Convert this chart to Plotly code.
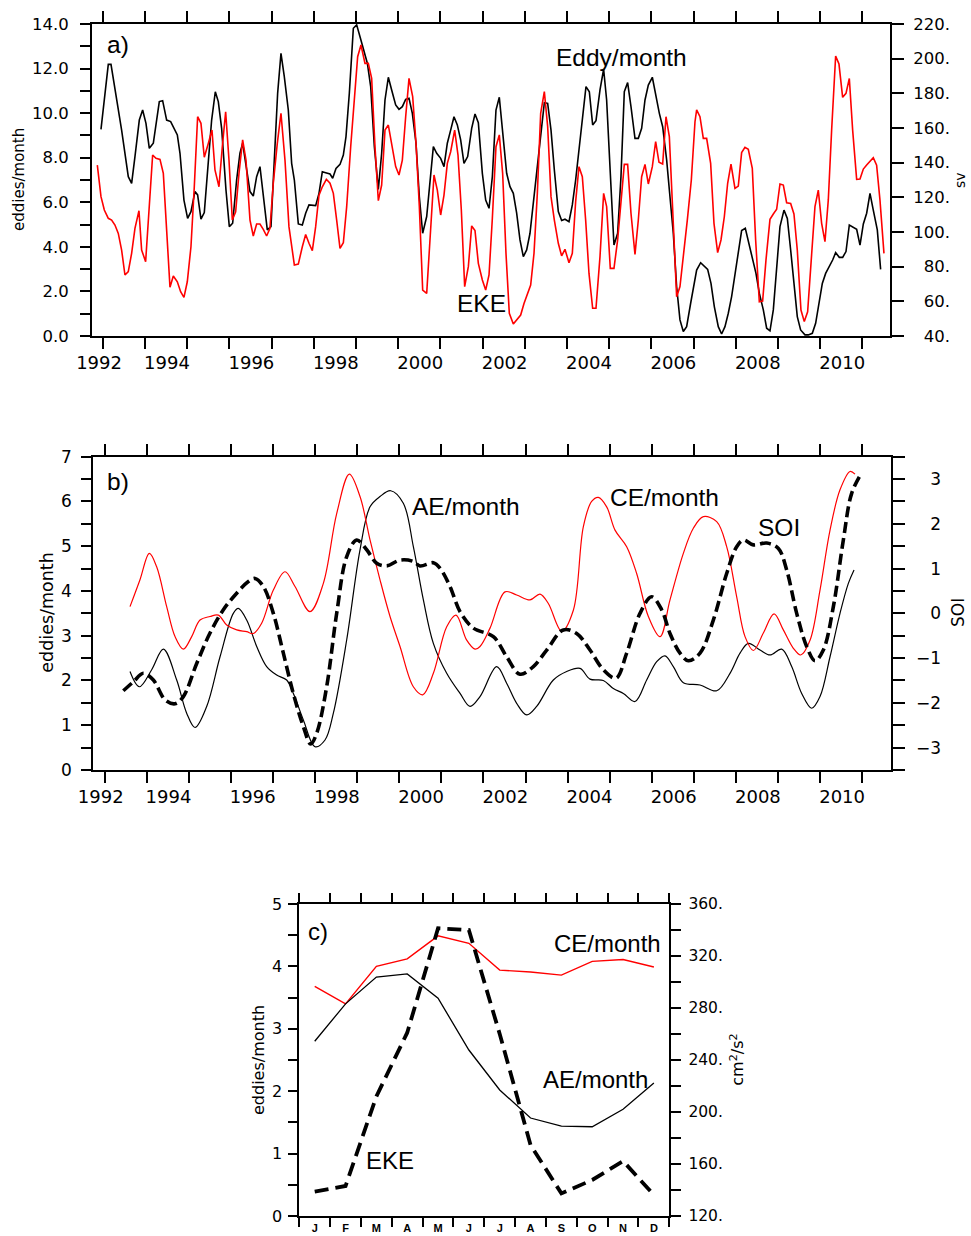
import plotly.graph_objects as go

W, H = 971, 1236

# ---------------- Panel a data ----------------
A_EDDY_YEAR = [1992.436, 1992.609, 1992.673, 1992.925, 1993.083, 1993.162, 1993.241, 1993.344, 1993.423, 1993.502,
               1993.581, 1993.676, 1993.818, 1993.897, 1993.992, 1994.087, 1994.245, 1994.308, 1994.402, 1994.489,
               1994.568, 1994.663, 1994.726, 1994.805, 1994.884, 1994.979, 1995.058, 1995.145, 1995.216, 1995.295,
               1995.398, 1995.477, 1995.556, 1995.650, 1995.729, 1995.793, 1995.872, 1995.967, 1996.045, 1996.124,
               1996.203, 1996.282, 1996.377, 1996.464, 1996.543, 1996.622, 1996.701, 1996.780, 1996.875, 1996.954,
               1997.018, 1997.112, 1997.207, 1997.286, 1997.365, 1997.444, 1997.523, 1997.602, 1997.681, 1997.760,
               1997.863, 1997.926, 1998.005, 1998.100, 1998.179, 1998.242, 1998.321, 1998.416, 1998.495, 1998.574,
               1998.669, 1998.748, 1998.827, 1998.914, 1999.008, 1999.087, 1999.166, 1999.245, 1999.324, 1999.419,
               1999.498, 1999.577, 1999.656, 1999.735, 1999.814, 1999.901, 1999.980, 2000.059, 2000.154, 2000.233,
               2000.312, 2000.391, 2000.485, 2000.564, 2000.643, 2000.722, 2000.801, 2000.880, 2000.959, 2001.038,
               2001.125, 2001.220, 2001.299, 2001.378, 2001.473, 2001.552, 2001.631, 2001.710, 2001.796, 2001.875,
               2001.954, 2002.049, 2002.128, 2002.207, 2002.286, 2002.365, 2002.444, 2002.523, 2002.602, 2002.681,
               2002.776, 2002.855, 2002.942, 2003.021, 2003.100, 2003.179, 2003.273, 2003.352, 2003.431, 2003.526,
               2003.605, 2003.684, 2003.763, 2003.842, 2003.929, 2004.008, 2004.087, 2004.166, 2004.261, 2004.347,
               2004.418, 2004.505, 2004.592, 2004.679, 2004.758, 2004.837, 2004.916, 2004.995, 2005.090, 2005.169,
               2005.248, 2005.327, 2005.406, 2005.501, 2005.588, 2005.667, 2005.746, 2005.840, 2005.919, 2005.998,
               2006.077, 2006.156, 2006.235, 2006.314, 2006.409, 2006.512, 2006.551, 2006.646, 2006.725, 2006.812,
               2006.891, 2006.970, 2007.064, 2007.143, 2007.222, 2007.301, 2007.380, 2007.459, 2007.538, 2007.617,
               2007.704, 2007.775, 2007.854, 2007.957, 2008.036, 2008.131, 2008.210, 2008.289, 2008.368, 2008.447,
               2008.526, 2008.621, 2008.700, 2008.779, 2008.857, 2008.936, 2009.015, 2009.118, 2009.197, 2009.292,
               2009.371, 2009.450, 2009.529, 2009.608, 2009.695, 2009.774, 2009.845, 2009.932, 2010.011, 2010.090,
               2010.169, 2010.248, 2010.343, 2010.422, 2010.501, 2010.580, 2010.659, 2010.737, 2010.832, 2010.911]
A_EDDY = [9.27, 12.19, 12.19, 9.24, 7.15, 6.85, 8.05, 9.69, 10.14, 9.54,
          8.42, 8.65, 10.52, 10.56, 9.69, 9.62, 9.02, 8.20, 6.10, 5.28,
          5.58, 6.48, 6.33, 5.24, 5.54, 7.75, 9.69, 10.96, 10.52, 9.32,
          6.55, 4.91, 5.06, 7.00, 8.20, 8.65, 7.60, 6.48, 6.28, 7.15,
          7.60, 6.40, 4.76, 4.91, 8.20, 10.89, 12.68, 11.64, 10.14, 7.75,
          7.00, 5.03, 4.98, 5.51, 5.88, 5.85, 5.85, 6.40, 7.37, 7.33,
          7.27, 7.08, 7.52, 7.70, 8.12, 8.95, 10.89, 13.81, 13.96, 13.43,
          12.76, 12.24, 11.19, 8.50, 6.58, 8.20, 10.59, 11.61, 11.04, 10.37,
          10.17, 10.29, 10.62, 10.67, 9.99, 8.65, 6.25, 4.61, 5.36, 7.00,
          8.50, 8.20, 7.97, 7.60, 8.65, 9.24, 9.84, 9.47, 8.80, 7.75,
          8.05, 9.32, 9.96, 9.57, 7.30, 6.10, 5.73, 7.15, 10.14, 10.71,
          9.09, 7.30, 6.70, 6.40, 5.51, 4.31, 3.56, 3.86, 4.61, 6.03,
          7.60, 9.09, 10.47, 10.44, 9.24, 7.45, 5.58, 5.18, 5.24, 5.13,
          5.88, 7.00, 8.35, 9.84, 11.19, 10.96, 9.47, 9.66, 11.04, 11.97,
          10.59, 7.30, 4.08, 4.61, 7.15, 10.96, 11.37, 10.29, 8.87, 8.87,
          9.32, 10.59, 11.26, 11.61, 10.74, 9.99, 9.39, 7.90, 6.25, 4.61,
          2.21, 0.72, 0.20, 0.42, 1.47, 2.51, 2.96, 3.29, 3.14, 2.99,
          2.36, 1.32, 0.42, 0.09, 0.42, 1.02, 1.77, 2.81, 3.86, 4.73,
          4.83, 4.23, 3.56, 2.81, 1.92, 1.17, 0.35, 0.23, 1.17, 3.11,
          4.91, 5.65, 5.28, 3.86, 2.21, 0.87, 0.27, 0.05, 0.05, 0.12,
          0.57, 1.47, 2.36, 2.81, 3.11, 3.41, 3.74, 3.53, 3.53, 3.79,
          4.98, 4.91, 4.79, 4.08, 5.03, 5.51, 6.40, 5.65, 4.76, 2.99]

A_EKE_YEAR = [1992.349, 1992.436, 1992.515, 1992.609, 1992.688, 1992.767, 1992.846, 1992.925, 1993.004, 1993.083,
              1993.162, 1993.241, 1993.336, 1993.399, 1993.494, 1993.573, 1993.660, 1993.739, 1993.834, 1993.913,
              1993.976, 1994.071, 1994.150, 1994.245, 1994.323, 1994.402, 1994.481, 1994.568, 1994.647, 1994.726,
              1994.805, 1994.884, 1994.979, 1995.066, 1995.137, 1995.232, 1995.311, 1995.390, 1995.469, 1995.548,
              1995.627, 1995.706, 1995.793, 1995.872, 1995.967, 1996.045, 1996.124, 1996.203, 1996.282, 1996.361,
              1996.440, 1996.519, 1996.614, 1996.701, 1996.796, 1996.890, 1997.018, 1997.112, 1997.207, 1997.286,
              1997.365, 1997.444, 1997.523, 1997.602, 1997.681, 1997.776, 1997.863, 1997.942, 1998.021, 1998.100,
              1998.179, 1998.258, 1998.353, 1998.440, 1998.518, 1998.597, 1998.692, 1998.771, 1998.850, 1998.929,
              1999.008, 1999.087, 1999.166, 1999.245, 1999.324, 1999.419, 1999.498, 1999.577, 1999.656, 1999.735,
              1999.822, 1999.901, 1999.980, 2000.059, 2000.154, 2000.233, 2000.327, 2000.406, 2000.485, 2000.564,
              2000.643, 2000.722, 2000.817, 2000.896, 2000.975, 2001.054, 2001.141, 2001.220, 2001.299, 2001.378,
              2001.473, 2001.552, 2001.631, 2001.710, 2001.796, 2001.875, 2001.954, 2002.033, 2002.112, 2002.207,
              2002.286, 2002.381, 2002.460, 2002.539, 2002.618, 2002.697, 2002.776, 2002.855, 2002.942, 2003.021,
              2003.100, 2003.179, 2003.273, 2003.352, 2003.431, 2003.526, 2003.605, 2003.684, 2003.763, 2003.842,
              2003.921, 2004.000, 2004.087, 2004.166, 2004.261, 2004.347, 2004.418, 2004.505, 2004.592, 2004.679,
              2004.758, 2004.837, 2004.916, 2004.995, 2005.090, 2005.169, 2005.248, 2005.327, 2005.406, 2005.501,
              2005.580, 2005.659, 2005.746, 2005.825, 2005.904, 2005.983, 2006.077, 2006.156, 2006.251, 2006.330,
              2006.425, 2006.512, 2006.551, 2006.630, 2006.709, 2006.788, 2006.883, 2006.962, 2007.049, 2007.128,
              2007.207, 2007.286, 2007.365, 2007.459, 2007.538, 2007.617, 2007.696, 2007.775, 2007.870, 2007.949,
              2008.036, 2008.115, 2008.194, 2008.289, 2008.368, 2008.447, 2008.526, 2008.605, 2008.684, 2008.779,
              2008.857, 2008.936, 2009.023, 2009.102, 2009.181, 2009.276, 2009.355, 2009.434, 2009.513, 2009.592,
              2009.671, 2009.750, 2009.845, 2009.924, 2010.011, 2010.090, 2010.169, 2010.248, 2010.343, 2010.422,
              2010.501, 2010.580, 2010.659, 2010.737, 2010.816, 2010.895, 2010.990]
A_EKE = [138.6, 120.4, 112.7, 107.9, 106.9, 104.0, 99.2, 89.6, 75.2, 77.1,
         87.7, 102.1, 112.3, 89.6, 82.9, 114.6, 144.4, 142.5, 141.9, 133.8,
         106.9, 68.1, 74.6, 71.3, 65.6, 62.3, 71.3, 91.5, 126.1, 166.5,
         162.7, 143.1, 151.1, 158.8, 135.8, 126.1, 149.2, 169.4, 141.5, 106.9,
         111.7, 133.8, 153.1, 141.5, 106.9, 97.7, 104.6, 104.6, 101.5, 97.7,
         102.1, 128.1, 151.1, 168.5, 141.5, 103.1, 81.0, 81.5, 91.5, 98.6,
         93.5, 89.2, 103.1, 121.3, 126.1, 130.4, 128.1, 122.3, 106.9, 90.6,
         93.8, 114.6, 149.2, 176.1, 201.1, 207.9, 197.3, 197.3, 188.6, 149.2,
         118.1, 127.1, 158.8, 161.7, 151.1, 137.7, 132.9, 141.5, 166.5, 188.6,
         178.1, 151.1, 114.6, 66.5, 64.6, 99.2, 132.9, 124.2, 109.8, 121.3,
         139.6, 146.3, 158.8, 144.4, 112.7, 68.5, 80.0, 103.5, 100.8, 81.9,
         72.3, 66.5, 75.2, 107.9, 149.2, 156.0, 133.8, 87.7, 53.1, 46.9,
         49.6, 52.1, 58.8, 63.6, 69.4, 87.7, 122.3, 168.5, 181.0, 160.8,
         120.4, 106.9, 93.5, 86.2, 90.0, 82.3, 87.7, 117.5, 137.7, 131.9,
         106.9, 76.1, 56.0, 56.0, 85.8, 122.3, 114.6, 79.0, 79.0, 95.4,
         118.5, 139.0, 139.0, 110.8, 87.1, 106.9, 131.9, 139.0, 127.7, 137.7,
         152.1, 140.2, 139.2, 166.5, 155.0, 114.6, 62.7, 68.5, 87.7, 106.9,
         130.0, 163.6, 170.4, 166.5, 154.0, 154.0, 139.6, 105.0, 88.1, 95.4,
         108.8, 128.1, 139.2, 125.2, 126.5, 145.8, 148.8, 147.7, 136.7, 95.4,
         59.8, 60.2, 83.8, 107.3, 110.4, 113.1, 127.7, 127.1, 116.9, 116.5,
         110.4, 89.6, 55.0, 48.3, 54.0, 89.6, 114.6, 124.2, 105.0, 94.4,
         118.5, 158.8, 201.5, 196.9, 177.7, 180.0, 188.6, 158.8, 130.4, 130.6,
         136.3, 138.6, 140.6, 142.9, 138.6, 118.5, 87.7]

# ---------------- Panel b data ----------------
B_AE_YEAR = [1993.086, 1993.308, 1993.601, 1993.878, 1994.195, 1994.432, 1994.630, 1994.907, 1995.224, 1995.540,
             1995.659, 1995.857, 1996.095, 1996.332, 1996.570, 1996.807, 1996.966, 1997.203, 1997.480, 1997.718,
             1997.916, 1998.233, 1998.549, 1998.787, 1999.024, 1999.278, 1999.578, 1999.816, 2000.054, 2000.291,
             2000.608, 2000.925, 2001.162, 2001.399, 2001.795, 2002.032, 2002.270, 2002.508, 2002.745, 2003.141,
             2003.458, 2003.774, 2004.012, 2004.328, 2004.566, 2004.804, 2005.081, 2005.358, 2005.596, 2005.793,
             2005.991, 2006.229, 2006.625, 2007.021, 2007.337, 2007.575, 2007.773, 2008.050, 2008.287, 2008.565,
             2008.802, 2009.040, 2009.277, 2009.475, 2009.713, 2009.950, 2010.148, 2010.283]
B_AE = [2.20, 1.86, 2.24, 2.70, 2.01, 1.27, 0.95, 1.42, 2.53, 3.50,
        3.61, 3.35, 2.76, 2.31, 2.12, 2.01, 1.71, 1.12, 0.52, 0.67,
        1.27, 2.91, 4.92, 5.88, 6.11, 6.24, 5.96, 4.99, 3.80, 2.83,
        2.16, 1.71, 1.42, 1.64, 2.31, 1.94, 1.49, 1.23, 1.42, 2.01,
        2.20, 2.27, 2.03, 2.00, 1.82, 1.71, 1.53, 2.01, 2.42, 2.55,
        2.31, 1.95, 1.90, 1.77, 2.16, 2.61, 2.83, 2.68, 2.57, 2.70,
        2.31, 1.71, 1.38, 1.64, 2.53, 3.50, 4.17, 4.47]

B_CE_YEAR = [1993.086, 1993.323, 1993.545, 1993.719, 1993.957, 1994.155, 1994.353, 1994.551, 1994.749, 1994.986,
             1995.184, 1995.382, 1995.620, 1995.857, 1996.015, 1996.213, 1996.490, 1996.767, 1997.005, 1997.361,
             1997.678, 1997.995, 1998.296, 1998.549, 1998.787, 1999.024, 1999.262, 1999.499, 1999.816, 2000.038,
             2000.291, 2000.608, 2000.830, 2001.083, 2001.281, 2001.399, 2001.637, 2001.993, 2002.270, 2002.587,
             2002.824, 2003.022, 2003.340, 2003.616, 2003.854, 2004.051, 2004.210, 2004.408, 2004.606, 2004.883,
             2005.120, 2005.398, 2005.675, 2005.912, 2006.229, 2006.466, 2006.704, 2007.021, 2007.258, 2007.496,
             2007.694, 2007.892, 2008.129, 2008.383, 2008.604, 2008.842, 2009.016, 2009.238, 2009.475, 2009.713,
             2009.950, 2010.188, 2010.306]
B_CE = [3.65, 4.25, 4.84, 4.54, 3.65, 2.98, 2.70, 2.98, 3.35, 3.43,
        3.46, 3.24, 3.13, 3.09, 3.05, 3.28, 4.02, 4.43, 4.10, 3.54,
        4.17, 5.73, 6.61, 6.11, 5.14, 4.25, 3.43, 2.76, 1.86, 1.68,
        2.16, 3.20, 3.46, 2.90, 2.70, 2.76, 3.17, 3.98, 3.91, 3.80,
        3.93, 3.72, 3.10, 3.57, 5.44, 6.00, 6.09, 5.88, 5.36, 4.99,
        4.39, 3.43, 2.98, 3.80, 4.84, 5.40, 5.66, 5.55, 4.99, 3.87,
        2.98, 2.67, 3.06, 3.49, 3.13, 2.72, 2.57, 2.90, 4.02, 5.36,
        6.26, 6.67, 6.61]

B_SOI_YEAR = [1992.927, 1993.165, 1993.403, 1993.640, 1993.917, 1994.155, 1994.353, 1994.670, 1994.986, 1995.303,
              1995.620, 1995.897, 1996.055, 1996.253, 1996.490, 1996.728, 1996.965, 1997.203, 1997.377, 1997.520,
              1997.757, 1997.995, 1998.233, 1998.470, 1998.708, 1998.945, 1999.183, 1999.499, 1999.816, 1999.974,
              2000.291, 2000.449, 2000.687, 2000.924, 2001.241, 2001.716, 2002.032, 2002.349, 2002.666, 2002.983,
              2003.379, 2003.695, 2004.012, 2004.328, 2004.629, 2004.883, 2005.199, 2005.477, 2005.714, 2005.912,
              2006.150, 2006.348, 2006.625, 2006.941, 2007.258, 2007.496, 2007.654, 2007.892, 2008.208, 2008.486,
              2008.683, 2008.921, 2009.158, 2009.356, 2009.554, 2009.792, 2010.029, 2010.227, 2010.464]
B_SOI = [-1.73, -1.53, -1.34, -1.49, -1.93, -2.02, -1.86, -1.12, -0.44, 0.08,
         0.45, 0.71, 0.78, 0.60, 0.00, -0.89, -1.79, -2.53, -2.92, -2.68,
         -1.64, 0.00, 1.27, 1.64, 1.42, 1.12, 1.06, 1.19, 1.16, 1.06,
         1.13, 1.01, 0.60, 0.04, -0.33, -0.52, -0.97, -1.36, -1.19, -0.82,
         -0.37, -0.45, -0.82, -1.26, -1.45, -0.89, 0.00, 0.37, 0.08, -0.45,
         -0.89, -1.06, -0.89, -0.15, 0.89, 1.49, 1.64, 1.53, 1.57, 1.45,
         0.97, 0.00, -0.74, -1.06, -0.82, 0.15, 1.64, 2.68, 3.14]

# ---------------- Panel c data ----------------
C_MONTH_NUM = [1, 2, 3, 4, 5, 6, 7, 8, 9, 10, 11, 12]
C_MONTH_LABELS = ["J", "F", "M", "A", "M", "J", "J", "A", "S", "O", "N", "D"]
C_CE = [3.68, 3.40, 4.00, 4.12, 4.49, 4.37, 3.94, 3.91, 3.86, 4.08, 4.11, 3.99]
C_AE = [2.80, 3.40, 3.83, 3.88, 3.49, 2.66, 2.02, 1.57, 1.44, 1.43, 1.71, 2.13]
C_EKE = [138.7, 143.1, 212.0, 261.0, 341.3, 340.0, 260.0, 174.6, 137.4, 147.7, 162.3, 136.2]

# ---------------- tick definitions ----------------
YEAR_TICKS = [1992.48 + k for k in range(19)]
YEAR_LABEL_VALS = [1992.39, 1994, 1996, 1998, 2000, 2002, 2004, 2006, 2008, 2010]
YEAR_LABELS = ["1992", "1994", "1996", "1998", "2000", "2002", "2004", "2006", "2008", "2010"]
A_LEFT_VALS = list(range(0, 15))
A_LEFT_TEXT = ["%.1f" % v if v % 2 == 0 else "" for v in A_LEFT_VALS]
A_RIGHT_VALS = list(range(40, 221, 20))
B_LEFT_VALS = [v * 0.5 for v in range(0, 15)]
B_RIGHT_VALS = [v * 0.5 - 3.5 for v in range(0, 15)]
C_LEFT_VALS = [v * 0.5 for v in range(0, 11)]
C_RIGHT_VALS = list(range(120, 361, 20))
C_MONTH_TICKS = [m + 0.5 for m in range(0, 13)]

INV = '<span style="color:rgba(0,0,0,0)">%s</span>'


def right_num(v, width):
    s = "%d." % v
    pad = width - len(s)
    return (INV % ("0" * pad) + s) if pad > 0 else s


A_RIGHT_TEXT = [right_num(v, 4) for v in A_RIGHT_VALS]
B_LEFT_TEXT = [("%d" % v) if v == int(v) else "" for v in B_LEFT_VALS]
B_RIGHT_TEXT = []
for v in B_RIGHT_VALS:
    if v != int(v):
        B_RIGHT_TEXT.append("")
    elif v < 0:
        B_RIGHT_TEXT.append("\u2212%d" % abs(v))
    else:
        B_RIGHT_TEXT.append(INV % "\u2212" + "%d" % v)
C_LEFT_TEXT = [("%d" % v) if v == int(v) else "" for v in C_LEFT_VALS]
C_RIGHT_TEXT = [("%d." % v) if v % 40 == 0 else "" for v in C_RIGHT_VALS]


def dom_x(x0, x1):
    return [x0 / W, x1 / W]


def dom_y(top, bottom):
    return [1 - bottom / H, 1 - top / H]


def at(px, py):
    return px / W, 1 - py / H


TICKFONT = "DejaVu Sans"
BIG = "Liberation Sans"

fig = go.Figure()

# panel a
fig.add_trace(go.Scatter(x=A_EDDY_YEAR, y=A_EDDY, xaxis="x", yaxis="y", mode="lines",
                         line=dict(color="black", width=1.6), hoverinfo="skip"))
fig.add_trace(go.Scatter(x=A_EKE_YEAR, y=A_EKE, xaxis="x", yaxis="y2", mode="lines",
                         line=dict(color="#ff0000", width=1.6), hoverinfo="skip"))
fig.add_trace(go.Scatter(x=[], y=[], xaxis="x2", yaxis="y", mode="lines", hoverinfo="skip"))

# panel b
fig.add_trace(go.Scatter(x=B_AE_YEAR, y=B_AE, xaxis="x3", yaxis="y3", mode="lines",
                         line=dict(color="black", width=1.2, shape="spline", smoothing=1.0), hoverinfo="skip"))
fig.add_trace(go.Scatter(x=B_CE_YEAR, y=B_CE, xaxis="x3", yaxis="y3", mode="lines",
                         line=dict(color="#ff0000", width=1.2, shape="spline", smoothing=1.0), hoverinfo="skip"))
fig.add_trace(go.Scatter(x=B_SOI_YEAR, y=B_SOI, xaxis="x3", yaxis="y4", mode="lines",
                         line=dict(color="black", width=3.6, dash="11px,5px", shape="spline", smoothing=1.0),
                         hoverinfo="skip"))
fig.add_trace(go.Scatter(x=[], y=[], xaxis="x4", yaxis="y3", mode="lines", hoverinfo="skip"))

# panel c
fig.add_trace(go.Scatter(x=C_MONTH_NUM, y=C_CE, xaxis="x5", yaxis="y5", mode="lines",
                         line=dict(color="#ff0000", width=1.4), hoverinfo="skip"))
fig.add_trace(go.Scatter(x=C_MONTH_NUM, y=C_AE, xaxis="x5", yaxis="y5", mode="lines",
                         line=dict(color="black", width=1.3), hoverinfo="skip"))
fig.add_trace(go.Scatter(x=C_MONTH_NUM, y=C_EKE, xaxis="x5", yaxis="y6", mode="lines",
                         line=dict(color="black", width=3.8, dash="14px,7px"), hoverinfo="skip"))
fig.add_trace(go.Scatter(x=[], y=[], xaxis="x6", yaxis="y5", mode="lines", hoverinfo="skip"))

AX = dict(showgrid=False, zeroline=False, linecolor="black", linewidth=2, tickcolor="black",
          tickwidth=2, automargin=False, fixedrange=True)


def tick_x(domain, rng, anchor, tickvals, ticklen):
    return dict(AX, domain=domain, range=rng, anchor=anchor, tickmode="array", tickvals=tickvals,
                ticks="outside", ticklen=ticklen, showticklabels=False, showline=True, mirror="ticks")


def label_x(over, anchor, rng, vals, text, size, standoff, bold=False):
    return dict(AX, overlaying=over, anchor=anchor, side="bottom", range=rng, tickmode="array",
                tickvals=vals, ticktext=text, ticks="", showline=False,
                tickfont=dict(family=TICKFONT if not bold else BIG, size=size, color="black",
                              weight="bold" if bold else "normal"),
                ticklabelstandoff=standoff)


def y_ax(domain, rng, anchor, vals, text, size, ticklen, standoff, side="left", over=None):
    d = dict(AX, range=rng, anchor=anchor, tickmode="array", tickvals=vals, ticktext=text,
             ticks="outside", ticklen=ticklen, showline=True, side=side,
             tickfont=dict(family=TICKFONT, size=size, color="black"), ticklabelstandoff=standoff)
    if over:
        d["overlaying"] = over
    else:
        d["domain"] = domain
    return d


A_RANGE = [1992.223, 2011.133]
B_RANGE = [1992.214, 2011.154]
C_RANGE = [0.5, 12.5]

layout = dict(
    width=W, height=H, autosize=False,
    margin=dict(l=0, r=0, t=0, b=0, pad=0),
    paper_bgcolor="white", plot_bgcolor="white", showlegend=False,
    xaxis=tick_x(dom_x(92, 890), A_RANGE, "y", YEAR_TICKS, 11),
    xaxis2=label_x("x", "y", A_RANGE, YEAR_LABEL_VALS, YEAR_LABELS, 18, 14),
    yaxis=y_ax(dom_y(24, 336), [0, 14], "x", A_LEFT_VALS, A_LEFT_TEXT, 16.5, 10, 8),
    yaxis2=y_ax(None, [40, 220], "x", A_RIGHT_VALS, A_RIGHT_TEXT, 16.5, 12, 6, side="right", over="y"),

    xaxis3=tick_x(dom_x(93.3, 890.7), B_RANGE, "y3", YEAR_TICKS, 11),
    xaxis4=label_x("x3", "y3", B_RANGE, YEAR_LABEL_VALS, YEAR_LABELS, 18, 14),
    yaxis3=y_ax(dom_y(456.7, 770), [0, 7], "x3", B_LEFT_VALS, B_LEFT_TEXT, 17, 10, 6),
    yaxis4=y_ax(None, [-3.5, 3.5], "x3", B_RIGHT_VALS, B_RIGHT_TEXT, 17, 12, 8, side="right", over="y3"),

    xaxis5=tick_x(dom_x(299.3, 669.3), C_RANGE, "y5", C_MONTH_TICKS, 9),
    xaxis6=label_x("x5", "y5", C_RANGE, C_MONTH_NUM, C_MONTH_LABELS, 11, 4, bold=True),
    yaxis5=y_ax(dom_y(904, 1216), [0, 5], "x5", C_LEFT_VALS, C_LEFT_TEXT, 16, 9, 3),
    yaxis6=y_ax(None, [120, 360], "x5", C_RIGHT_VALS, C_RIGHT_TEXT, 15.5, 10, 4, side="right", over="y5"),
)
fig.update_layout(**layout)

annots = []


def add_text(txt, px, py, size, family=BIG, angle=0):
    x, y = at(px, py)
    annots.append(dict(text=txt, x=x, y=y, xref="paper", yref="paper", xanchor="center", yanchor="middle",
                       showarrow=False, textangle=angle, font=dict(family=family, size=size, color="black")))


# panel labels and series names
add_text("a)", 117.5, 45, 24.5)
add_text("Eddy/month", 621, 57.5, 24.5)
add_text("EKE", 481.3, 303.3, 24.5)
add_text("b)", 117.5, 481, 24.5)
add_text("AE/month", 465.8, 507, 24.5)
add_text("CE/month", 664.3, 497.7, 24.5)
add_text("SOI", 778.5, 527.3, 24.5)
add_text("c)", 318, 931, 24)
add_text("CE/month", 607, 943.3, 24)
add_text("AE/month", 595.5, 1079, 24)
add_text("EKE", 389.7, 1160, 24)

# axis titles
add_text("eddies/month", 19, 180, 15, TICKFONT, -90)
add_text("sv", 960, 180, 14, TICKFONT, -90)
add_text("eddies/month", 46.7, 613, 17.5, TICKFONT, -90)
add_text("SOI", 958, 613, 17, TICKFONT, -90)
add_text("eddies/month", 258, 1060, 16, TICKFONT, -90)
add_text("cm<sup>2</sup>/s<sup>2</sup>", 736.7, 1060, 16, TICKFONT, -90)

fig.update_layout(annotations=annots)

fig.write_html("out.html", config={"displayModeBar": False},
               post_script="document.body.style.margin='0';")
